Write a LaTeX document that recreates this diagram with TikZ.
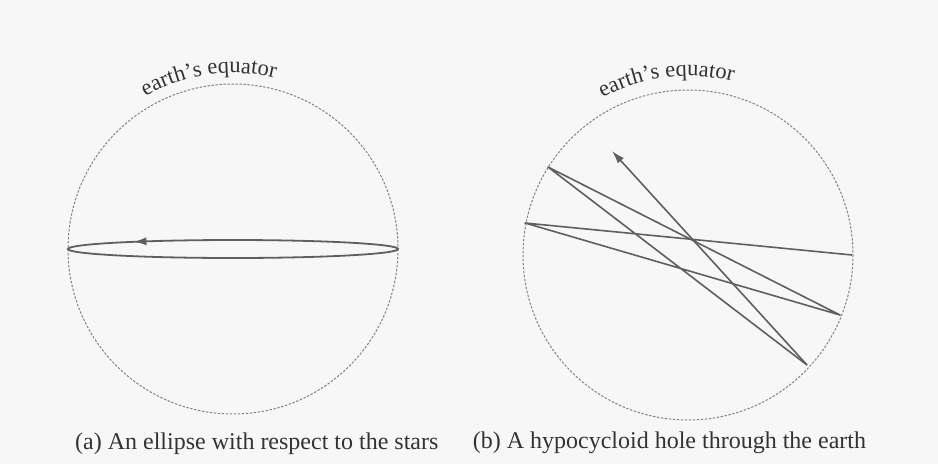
\documentclass[tikz,border=0pt]{standalone}
\usepackage{fontspec}
\setmainfont{Liberation Serif}
\usetikzlibrary{positioning, arrows.meta, decorations.text, decorations.markings}
\definecolor{inkgray}{RGB}{95,95,95}
\definecolor{dotgray}{RGB}{130,130,130}
\definecolor{paper}{RGB}{247,247,247}

\begin{document}
\begin{tikzpicture}[
        x=1pt, y=-1pt,
        globe/.style={draw=dotgray, line width=1pt, dash pattern=on 2.4pt off 1.6pt},
        orbit/.style={draw=inkgray, line width=1.8pt},
        hole/.style={draw=inkgray, line width=1.6pt, line join=round},
        caption/.style={inner sep=0pt, font=\fontsize{24}{28}\selectfont, text=black!80},
        equator/.style={decorate, decoration={text along path, text align=center,
            text={|\fontsize{22.5}{26}\selectfont\color{black!80}|earth's equator}}},
    ]
    \fill[paper] (0,0) rectangle (938,464);
    \useasboundingbox (0,0) rectangle (938,464);

    \coordinate (EA) at (233,249);
    \coordinate (EB) at (688,255);
    \draw[globe] (EA) circle[radius=165];
    \draw[globe] (EB) circle[radius=165];

    \path[equator] ([shift={(-138:176)}]EA) arc[start angle=-138, end angle=-58, radius=176];
    \path[equator] ([shift={(-137:179)}]EB) arc[start angle=-137, end angle=-57, radius=179];

    \draw[orbit, postaction={decorate}, decoration={markings,
        mark=at position 0.6 with {\arrowreversed{Latex[length=13pt,width=8pt]}}}]
        (EA) ellipse[x radius=165, y radius=9];

    \coordinate (P1) at (852,255);
    \coordinate (P2) at (525,223);
    \coordinate (P3) at (840,315);
    \coordinate (P4) at (548,167);
    \coordinate (P5) at (807,365);
    \coordinate (TIP) at (612,151);
    \draw[hole] (P1) -- (P2) -- (P3) -- (P4) -- (P5);
    \draw[hole, -{Latex[length=13pt,width=8pt]}] (P5) -- (TIP);

    \node[caption, anchor=base west] (CAPA) at (75,449) {(a) An ellipse with respect to the stars};
    \node[caption, right=34pt of CAPA] (CAPB) {(b) A hypocycloid hole through the earth};
\end{tikzpicture}
\end{document}
